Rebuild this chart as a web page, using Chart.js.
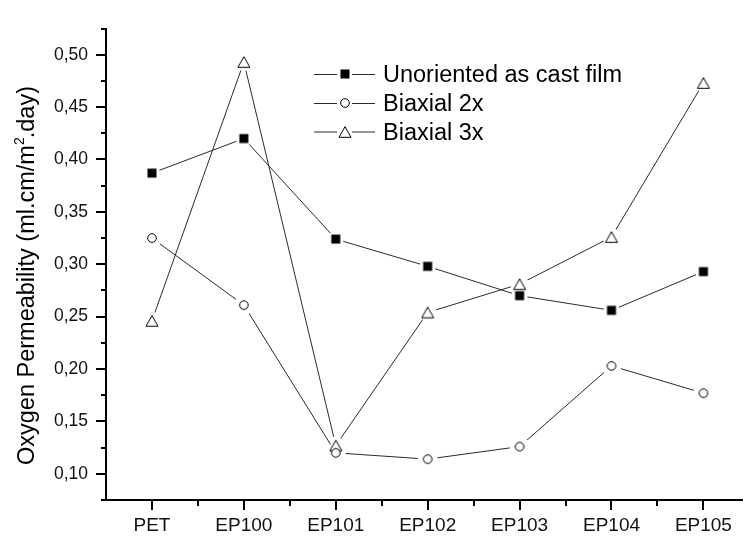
<!DOCTYPE html>
<html>
<head>
<meta charset="utf-8">
<script src="https://cdn.jsdelivr.net/npm/chart.js@4/dist/chart.umd.min.js"></script>
<style>
  html, body { margin: 0; padding: 0; background: #fff; }
  #wrap { position: relative; width: 748px; height: 538px; }
</style>
</head>
<body>
<div id="wrap"><canvas id="c" width="748" height="538"></canvas></div>
<script>
// Samples along the x axis
const samples = ['PET', 'EP100', 'EP101', 'EP102', 'EP103', 'EP104', 'EP105'];

// Oxygen permeability, ml.cm/m².day
const unoriented = [0.387, 0.420, 0.324, 0.298, 0.270, 0.256, 0.293];
const biaxial2x  = [0.325, 0.261, 0.120, 0.114, 0.126, 0.203, 0.177];
const biaxial3x  = [0.246, 0.493, 0.127, 0.254, 0.281, 0.326, 0.473];

const seriesNames = ['Unoriented as cast film', 'Biaxial 2x', 'Biaxial 3x'];

// Axis ticks
const yMajorTicks = [0.10, 0.15, 0.20, 0.25, 0.30, 0.35, 0.40, 0.45, 0.50];
const yMinorTicks = [0.075, 0.125, 0.175, 0.225, 0.275, 0.325, 0.375, 0.425, 0.475, 0.525];
const xMinorTicks = [0.5, 1.5, 2.5, 3.5, 4.5, 5.5];

const FONT = '"Liberation Sans", Arial, sans-serif';

// Marker glyphs
function makeMarker(kind) {
  const s = 16, m = s / 2;
  const c = document.createElement('canvas');
  c.width = s; c.height = s;
  const g = c.getContext('2d');
  g.lineWidth = 1;
  g.strokeStyle = '#000';
  if (kind === 'square') {
    g.fillStyle = '#000';
    g.fillRect(m - 4.5, m - 4.5, 9, 9);
  } else if (kind === 'circle') {
    g.beginPath();
    g.arc(m, m, 4.3, 0, Math.PI * 2);
    g.fillStyle = '#fff';
    g.fill();
    g.stroke();
  } else {
    g.beginPath();
    g.moveTo(m, m - 5.3);
    g.lineTo(m + 6, m + 5.3);
    g.lineTo(m - 6, m + 5.3);
    g.closePath();
    g.fillStyle = '#fff';
    g.fill();
    g.stroke();
  }
  return c;
}
const markers = [makeMarker('square'), makeMarker('circle'), makeMarker('triangle')];
const gaps = [8, 10, 9];
const seriesValues = [unoriented, biaxial2x, biaxial3x];

const toPoints = vals => vals.map((v, i) => ({ x: i, y: v }));

const datasets = [];
seriesValues.forEach((vals, k) => {
  // connecting line, drawn with small gaps around its own markers
  datasets.push({
    label: seriesNames[k],
    data: toPoints(vals),
    showLine: true,
    borderColor: '#2a2a2a',
    borderWidth: 1,
    pointRadius: 0,
    pointHoverRadius: 0,
    tension: 0,
    gap: gaps[k],
    order: 2
  });
});
seriesValues.forEach((vals, k) => {
  // symbols on top
  datasets.push({
    label: seriesNames[k] + ' markers',
    data: toPoints(vals),
    showLine: false,
    pointStyle: markers[k],
    pointRadius: 5,
    order: 1
  });
});

// Clip each line around its own points so the symbols stand free
const gapPlugin = {
  id: 'markerGaps',
  beforeDatasetDraw(chart, args) {
    const ds = chart.data.datasets[args.index];
    if (!ds.gap) return;
    const ctx = chart.ctx;
    ctx.save();
    ctx.beginPath();
    ctx.rect(0, 0, chart.width, chart.height);
    args.meta.data.forEach(pt => {
      ctx.moveTo(pt.x + ds.gap, pt.y);
      ctx.arc(pt.x, pt.y, ds.gap, 0, Math.PI * 2);
    });
    ctx.clip('evenodd');
  },
  afterDatasetDraw(chart, args) {
    if (chart.data.datasets[args.index].gap) chart.ctx.restore();
  }
};

// Outward tick marks, long for major and short for minor
const tickPlugin = {
  id: 'axisTicks',
  afterDraw(chart) {
    const { ctx, chartArea, scales } = chart;
    ctx.save();
    ctx.strokeStyle = '#000';
    ctx.lineWidth = 2;
    ctx.beginPath();
    samples.forEach((_, i) => {
      const x = Math.round(scales.x.getPixelForValue(i));
      ctx.moveTo(x, chartArea.bottom); ctx.lineTo(x, chartArea.bottom + 10);
    });
    xMinorTicks.forEach(v => {
      const x = Math.round(scales.x.getPixelForValue(v));
      ctx.moveTo(x, chartArea.bottom); ctx.lineTo(x, chartArea.bottom + 6);
    });
    yMajorTicks.forEach(v => {
      const y = Math.round(scales.y.getPixelForValue(v));
      ctx.moveTo(chartArea.left, y); ctx.lineTo(chartArea.left - 10, y);
    });
    yMinorTicks.forEach(v => {
      const y = Math.round(scales.y.getPixelForValue(v));
      ctx.moveTo(chartArea.left, y); ctx.lineTo(chartArea.left - 5, y);
    });
    ctx.stroke();
    ctx.restore();
  }
};

// Legend block and the rotated y-axis title with its superscript
const annotatePlugin = {
  id: 'annotations',
  afterDraw(chart) {
    const ctx = chart.ctx;
    ctx.save();

    // legend
    const rows = [74, 103, 131.5];
    ctx.font = '23.5px ' + FONT;
    ctx.fillStyle = '#000';
    ctx.textBaseline = 'alphabetic';
    ctx.textAlign = 'left';
    seriesNames.forEach((name, k) => {
      const y = rows[k];
      ctx.strokeStyle = '#2a2a2a';
      ctx.lineWidth = 1;
      ctx.beginPath();
      ctx.moveTo(314, y + 0.5); ctx.lineTo(337, y + 0.5);
      ctx.moveTo(352, y + 0.5); ctx.lineTo(375, y + 0.5);
      ctx.stroke();
      const img = markers[k];
      ctx.drawImage(img, Math.round(344.5 - img.width / 2), Math.round(y - img.height / 2));
      ctx.fillText(name, 383, y + 8.4);
    });

    // y-axis title
    ctx.translate(33.5, 465);
    ctx.rotate(-Math.PI / 2);
    ctx.font = '23.5px ' + FONT;
    const a = 'Oxygen Permeability (ml.cm/m';
    const b = '2';
    const c = '.day)';
    let x = 0;
    ctx.fillText(a, x, 0);
    x += ctx.measureText(a).width;
    ctx.font = '14px ' + FONT;
    ctx.fillText(b, x, -10);
    x += ctx.measureText(b).width - 1;
    ctx.font = '23.5px ' + FONT;
    ctx.fillText(c, x, 0);
    ctx.restore();
  }
};

new Chart(document.getElementById('c'), {
  type: 'scatter',
  data: { datasets },
  options: {
    responsive: false,
    animation: false,
    events: [],
    layout: { padding: { top: 7, right: 0, bottom: 0, left: 0 } },
    plugins: {
      legend: { display: false },
      tooltip: { enabled: false },
      title: { display: false }
    },
    scales: {
      x: {
        type: 'linear',
        min: -0.5,
        max: 6.42,
        afterBuildTicks: s => { s.ticks = samples.map((_, i) => ({ value: i })); },
        afterFit: s => { s.height = 38; },
        ticks: {
          autoSkip: false,
          maxRotation: 0,
          padding: 14,
          color: '#111',
          font: { family: FONT, size: 19 },
          callback: v => samples[v]
        },
        grid: { display: true, drawOnChartArea: false, drawTicks: false },
        border: { display: true, color: '#000', width: 2 }
      },
      y: {
        type: 'linear',
        min: 0.075,
        max: 0.525,
        afterBuildTicks: s => { s.ticks = yMajorTicks.map(v => ({ value: v })); },
        afterFit: s => { s.width = 106; },
        ticks: {
          autoSkip: false,
          padding: 18,
          color: '#111',
          font: { family: FONT, size: 17.5 },
          callback: v => v.toFixed(2).replace('.', ',')
        },
        grid: { display: true, drawOnChartArea: false, drawTicks: false },
        border: { display: true, color: '#000', width: 2 }
      }
    }
  },
  plugins: [gapPlugin, tickPlugin, annotatePlugin]
});
</script>
</body>
</html>
